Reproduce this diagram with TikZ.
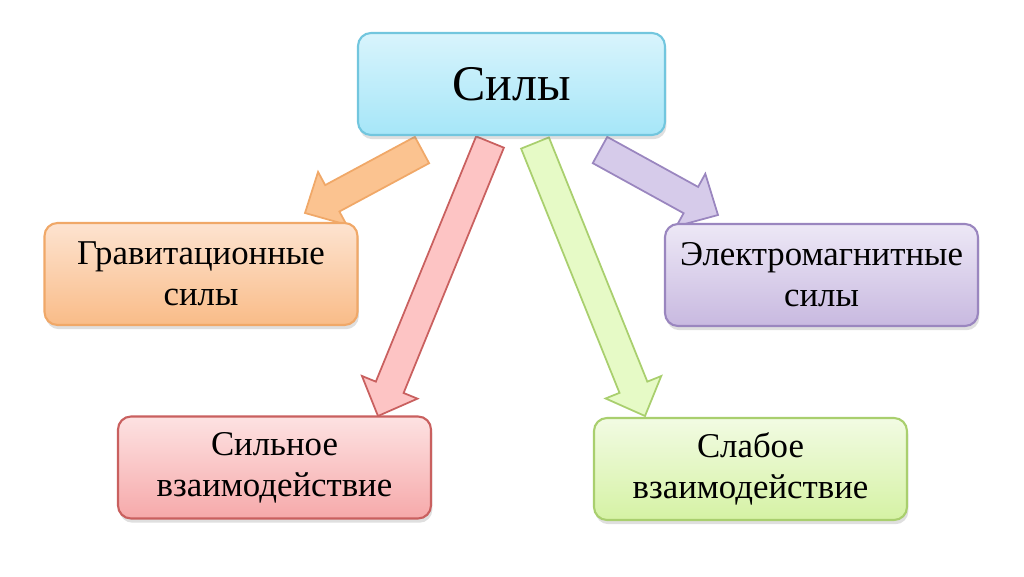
\documentclass[tikz,border=0pt]{standalone}
\usepackage{fontspec}
\setmainfont{Liberation Serif}
\usepackage{xcolor}
\usepackage{tikz}
\usetikzlibrary{calc,shadows}
\definecolor{sfcyantop}{HTML}{D8F4FC}
\definecolor{sfcyanbot}{HTML}{A6E6F8}
\definecolor{sfcyanline}{HTML}{72C6DE}
\definecolor{sforangetop}{HTML}{FDE3D0}
\definecolor{sforangebot}{HTML}{F9BC88}
\definecolor{sforangeline}{HTML}{F0A868}
\definecolor{sfpurpletop}{HTML}{EDE8F6}
\definecolor{sfpurplebot}{HTML}{C8B9E0}
\definecolor{sfpurpleline}{HTML}{9A86BF}
\definecolor{sfredtop}{HTML}{FDE2E2}
\definecolor{sfredbot}{HTML}{F6A9AA}
\definecolor{sfredline}{HTML}{C9605F}
\definecolor{sfgreentop}{HTML}{F2FBE3}
\definecolor{sfgreenbot}{HTML}{D5F2A4}
\definecolor{sfgreenline}{HTML}{A9CF6E}
\definecolor{sforangearr}{HTML}{FBC390}
\definecolor{sfredarr}{HTML}{FDC4C4}
\definecolor{sfgreenarr}{HTML}{E6FAC6}
\definecolor{sfpurplearr}{HTML}{D6CBEA}

% block arrow: tail, tip, fill, line
\newcommand{\blockarrow}[4]{%
  \coordinate (hb) at ($(#2)!0.31cm!(#1)$);
  \draw[draw=#4,fill=#3,line width=0.5pt,line join=miter]
    ($(#1)!0.15cm!90:(#2)$) -- ($(hb)!0.15cm!-90:(#1)$) -- ($(hb)!0.30cm!-90:(#1)$)
    -- (#2) -- ($(hb)!0.30cm!90:(#1)$) -- ($(hb)!0.15cm!90:(#1)$)
    -- ($(#1)!0.15cm!-90:(#2)$) -- cycle;}

\begin{document}
\begin{tikzpicture}[
  box/.style={rounded corners=0.13cm,line width=0.6pt,minimum width=3.13cm,
    minimum height=1.02cm,align=center,font=\fontsize{9.9}{11.6}\selectfont,
    drop shadow={shadow xshift=0.4pt,shadow yshift=-1.2pt,opacity=0.25}},
  title/.style={box,minimum width=3.07cm,font=\fontsize{14.2}{16}\selectfont}
]
  \useasboundingbox (0,0) rectangle (10.24,5.76);

  % arrows first, so the boxes lie over their ends
  \coordinate (gt) at (4.22,4.26);  \coordinate (gh) at (3.05,3.63);
  \coordinate (st) at (4.90,4.34);  \coordinate (sh) at (3.78,1.60);
  \coordinate (wt) at (5.35,4.33);  \coordinate (wh) at (6.45,1.60);
  \coordinate (et) at (6.00,4.26);  \coordinate (eh) at (7.18,3.61);
  \blockarrow{gt}{gh}{sforangearr}{sforangeline}
  \blockarrow{st}{sh}{sfredarr}{sfredline}
  \blockarrow{wt}{wh}{sfgreenarr}{sfgreenline}
  \blockarrow{et}{eh}{sfpurplearr}{sfpurpleline}

  \node[title,draw=sfcyanline,top color=sfcyantop,bottom color=sfcyanbot] (forces) at (5.115,4.92) {Силы};
  \node[box,draw=sforangeline,top color=sforangetop,bottom color=sforangebot] (grav) at (2.01,3.02) {Гравитационные\\силы};
  \node[box,draw=sfpurpleline,top color=sfpurpletop,bottom color=sfpurplebot] (em) at (8.215,3.01) {Электромагнитные\\силы};
  \node[box,draw=sfredline,top color=sfredtop,bottom color=sfredbot] (strong) at (2.745,1.085) {Сильное\\взаимодействие};
  \node[box,draw=sfgreenline,top color=sfgreentop,bottom color=sfgreenbot] (weak) at (7.505,1.07) {Слабое\\взаимодействие};
\end{tikzpicture}
\end{document}
